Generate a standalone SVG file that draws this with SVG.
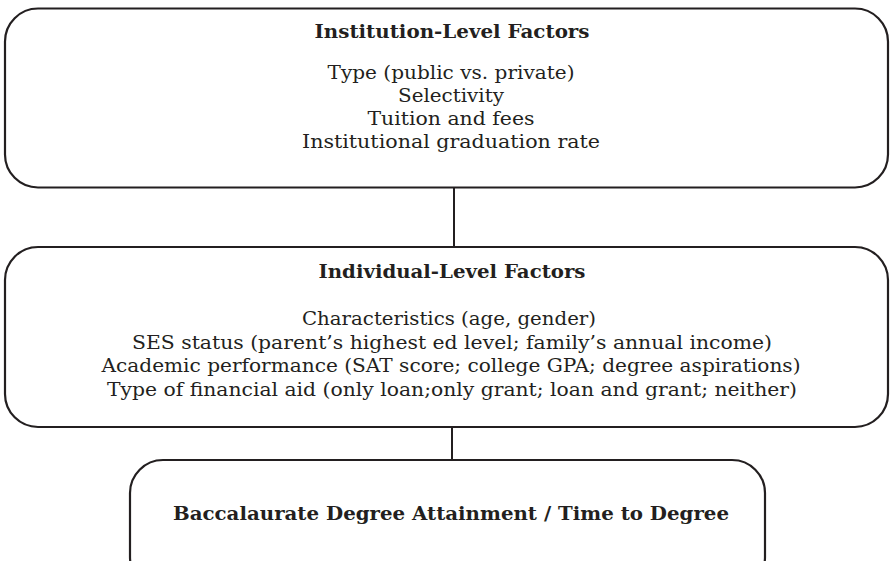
<svg xmlns="http://www.w3.org/2000/svg" width="890" height="561" viewBox="0 0 890 561">
<style>
.box{fill:#fff;stroke:#231f20;stroke-width:2.2}
.conn{stroke:#231f20;stroke-width:2;fill:none}
text{font-family:"DejaVu Serif","Liberation Serif",serif;fill:#231f20;text-anchor:middle}
.h{font-weight:bold;font-size:18px}
.b{font-size:19px}
</style>
<rect width="890" height="561" fill="#fff"/>
<g id="connectors">
<line class="conn" x1="454" y1="188" x2="454" y2="247"/>
<line class="conn" x1="452" y1="427" x2="452" y2="460"/>
</g>
<g id="institution">
<rect class="box" x="5" y="8.5" width="883" height="179" rx="33" ry="33"/>
<text class="h" x="452" y="38" textLength="275" lengthAdjust="spacingAndGlyphs">Institution-Level Factors</text>
<text class="b" x="451" y="78.5" textLength="247" lengthAdjust="spacingAndGlyphs">Type (public vs. private)</text>
<text class="b" x="451" y="101.5" textLength="106" lengthAdjust="spacingAndGlyphs">Selectivity</text>
<text class="b" x="451" y="124.5" textLength="167" lengthAdjust="spacingAndGlyphs">Tuition and fees</text>
<text class="b" x="451" y="148" textLength="298" lengthAdjust="spacingAndGlyphs">Institutional graduation rate</text>
</g>
<g id="individual">
<rect class="box" x="5" y="247" width="883" height="180" rx="33" ry="33"/>
<text class="h" x="452" y="278" textLength="267" lengthAdjust="spacingAndGlyphs">Individual-Level Factors</text>
<text class="b" x="449" y="324.5" textLength="294" lengthAdjust="spacingAndGlyphs">Characteristics (age, gender)</text>
<text class="b" x="452" y="348.5" textLength="640" lengthAdjust="spacingAndGlyphs">SES status (parent’s highest ed level; family’s annual income)</text>
<text class="b" x="451" y="372" textLength="699" lengthAdjust="spacingAndGlyphs">Academic performance (SAT score; college GPA; degree aspirations)</text>
<text class="b" x="452" y="396" textLength="690" lengthAdjust="spacingAndGlyphs">Type of financial aid (only loan;only grant; loan and grant; neither)</text>
</g>
<g id="outcome">
<rect class="box" x="130" y="460" width="635" height="130" rx="33" ry="33"/>
<text class="h" x="451" y="520" textLength="556" lengthAdjust="spacingAndGlyphs">Baccalaurate Degree Attainment / Time to Degree</text>
</g>
</svg>
